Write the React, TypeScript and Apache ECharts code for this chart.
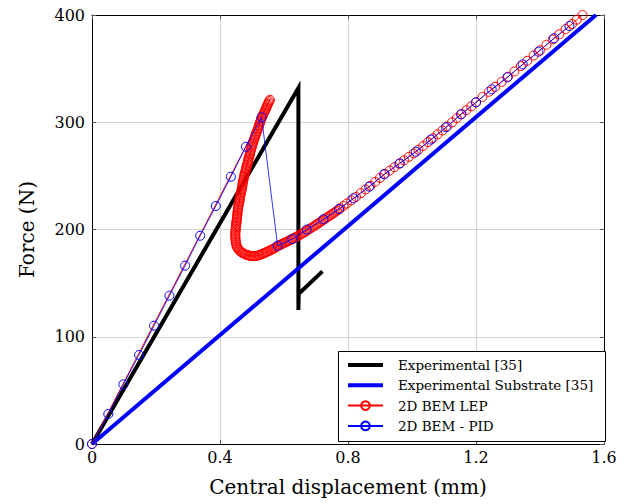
import React, { useEffect, useRef } from "react";
import * as echarts from "echarts";

const xTicks = [0, 0.4, 0.8, 1.2, 1.6];
const yTicks = [0, 100, 200, 300, 400];

const expX = [0, 0.645, 0.645, 0.646, 0.72];
const expY = [0, 332, 125, 140, 161];

const subX = [0, 1.575];
const subY = [0, 400];

// 2D BEM LEP: [displacement (mm), force (N)]
const lepPoints = [
  [0, 0],
  [0.556, 321], [0.554, 319.8], [0.552, 318.5], [0.55, 317.2], [0.548, 316], [0.546, 314.8],
  [0.545, 313.5], [0.543, 312.2], [0.541, 311], [0.539, 309.8], [0.537, 308.5], [0.535, 307.4],
  [0.534, 306.3], [0.532, 305.1], [0.53, 304], [0.528, 302.6], [0.527, 301.3], [0.525, 300],
  [0.524, 298.6], [0.522, 297.2], [0.521, 295.9], [0.519, 294.5], [0.518, 293.2], [0.516, 291.8],
  [0.514, 290.5], [0.512, 289.2], [0.511, 287.8], [0.509, 286.4], [0.508, 285.1], [0.506, 283.8],
  [0.505, 282.4], [0.503, 281], [0.502, 279.7], [0.5, 278.4], [0.499, 277], [0.498, 275.6],
  [0.497, 274.2], [0.495, 272.8], [0.494, 271.4], [0.493, 270], [0.492, 268.6], [0.49, 267.2],
  [0.489, 265.8], [0.488, 264.4], [0.487, 263], [0.486, 261.6], [0.485, 260.2], [0.483, 258.8],
  [0.482, 257.4], [0.481, 256], [0.48, 254.6], [0.478, 253.2], [0.477, 251.8], [0.476, 250.4],
  [0.475, 249], [0.474, 247.6], [0.473, 246.2], [0.472, 244.8], [0.471, 243.4], [0.47, 242],
  [0.47, 240.6], [0.469, 239.2], [0.468, 237.8], [0.467, 236.4], [0.466, 235], [0.465, 233.6],
  [0.464, 232.2], [0.463, 230.8], [0.462, 229.4], [0.461, 228], [0.461, 226.6], [0.46, 225.2],
  [0.459, 223.8], [0.458, 222.4], [0.457, 221], [0.456, 219.6], [0.456, 218.3], [0.455, 217],
  [0.455, 215.6], [0.454, 214.2], [0.454, 212.9], [0.453, 211.5], [0.453, 210.2], [0.452, 208.8],
  [0.452, 207.5], [0.451, 206.2], [0.451, 204.8], [0.45, 203.5], [0.45, 202.2], [0.449, 200.8],
  [0.449, 199.5], [0.448, 198], [0.448, 196.5], [0.448, 195], [0.448, 193.5], [0.448, 192],
  [0.449, 190.5], [0.449, 189], [0.45, 187.5], [0.451, 186], [0.452, 184.5], [0.454, 183.4],
  [0.456, 182.3], [0.458, 181.3], [0.461, 180.3], [0.464, 179.5], [0.467, 178.8], [0.47, 178.2],
  [0.473, 177.8], [0.477, 177.2], [0.481, 176.6], [0.485, 176.2], [0.49, 175.8], [0.494, 175.5],
  [0.498, 175.3], [0.502, 175.2], [0.506, 175.2], [0.51, 175.3], [0.515, 175.4], [0.519, 175.8],
  [0.523, 176.2], [0.527, 176.6], [0.531, 177.1], [0.535, 177.6], [0.539, 178.1], [0.543, 178.6],
  [0.547, 179.2], [0.551, 179.8], [0.556, 180.4], [0.56, 181], [0.564, 181.7], [0.568, 182.3],
  [0.572, 183], [0.576, 183.7], [0.58, 184.4], [0.584, 185], [0.588, 185.6], [0.591, 186.1],
  [0.595, 186.7], [0.599, 187.2], [0.603, 187.8], [0.607, 188.3], [0.611, 188.9], [0.614, 189.4],
  [0.618, 190], [0.622, 190.6], [0.626, 191.2], [0.631, 192], [0.636, 192.8], [0.641, 193.6],
  [0.646, 194.4], [0.651, 195.2], [0.656, 196.1], [0.661, 197], [0.666, 197.9], [0.671, 198.8],
  [0.676, 199.8], [0.681, 200.7], [0.686, 201.7], [0.691, 202.6], [0.696, 203.6], [0.701, 204.5],
  [0.706, 205.5], [0.711, 206.5], [0.716, 207.5], [0.721, 208.5], [0.726, 209.5], [0.731, 210.5],
  [0.736, 211.5], [0.741, 212.5], [0.746, 213.5], [0.751, 214.5], [0.756, 215.5], [0.761, 216.5],
  [0.766, 217.6], [0.771, 218.7], [0.776, 219.8], [0.786, 222], [0.796, 224.2],
  [0.81, 227.2], [0.825, 230.4], [0.84, 233.9], [0.855, 237.3], [0.87, 240.8], [0.885, 244.4],
  [0.9, 248.1], [0.915, 251.8], [0.93, 255], [0.945, 258.1], [0.96, 261.3], [0.975, 264.5],
  [0.99, 267.7], [1.005, 271], [1.02, 274.4], [1.035, 277.9], [1.05, 281.5], [1.065, 285.1],
  [1.08, 288.7], [1.095, 292.3], [1.11, 296.1], [1.125, 299.9], [1.14, 303.8], [1.155, 307.7],
  [1.17, 311.3], [1.185, 314.8], [1.2, 318.6], [1.22, 323.5], [1.24, 328.4], [1.26, 333],
  [1.28, 337.6], [1.3, 342.4], [1.32, 347.4], [1.34, 352.4], [1.36, 357.3], [1.38, 362.2],
  [1.4, 367], [1.42, 372.2], [1.44, 377.3], [1.46, 382], [1.48, 386.8], [1.5, 391.6],
  [1.515, 395.6], [1.533, 400],
];

const pidX = [
  0, 0.051, 0.098, 0.147, 0.194, 0.242, 0.291, 0.338, 0.387, 0.434, 0.481, 0.53,
  0.58, 0.626, 0.671, 0.723, 0.772, 0.817, 0.866, 0.913, 0.962, 1.012, 1.059,
  1.106, 1.153, 1.2, 1.249, 1.298, 1.346, 1.395, 1.444, 1.492,
];
const pidY = [
  0, 28, 55.6, 83, 110.3, 138.3, 166.3, 194.2, 221.9, 249.2, 277.2, 304.6,
  184.9, 191.1, 200, 209.5, 219.1, 229.1, 239.9, 251.5, 261.7, 272.5, 283.8,
  295.3, 307.4, 318.6, 330.7, 341.9, 354, 365.8, 378.3, 389.7,
];

const seriesNames = [
  "Experimental [35]",
  "Experimental Substrate [35]",
  "2D BEM LEP",
  "2D BEM - PID",
];

const FONT = "DejaVu Serif";

const zip = (xs: number[], ys: number[]) => xs.map((x, i) => [x, ys[i]]);

export default function App() {
  const ref = useRef<HTMLDivElement>(null);
  useEffect(() => {
    if (!ref.current) return;
    const chart = echarts.init(ref.current, undefined, { renderer: "svg" });
    const xMin = xTicks[0];
    const xMax = xTicks[xTicks.length - 1];
    const xInt = xTicks[1] - xTicks[0];
    const yMin = yTicks[0];
    const yMax = yTicks[yTicks.length - 1];
    const yInt = yTicks[1] - yTicks[0];
    const axisCommon = {
      axisLine: { show: true, onZero: false, lineStyle: { color: "#000", width: 1 } },
      axisTick: { show: true, inside: true, length: 4, lineStyle: { color: "#555", width: 1 } },
    };
    chart.setOption({
      animation: false,
      backgroundColor: "#fff",
      grid: { left: 92, right: 35, top: 15, bottom: 60, containLabel: false },
      xAxis: [
        {
          type: "value",
          min: xMin,
          max: xMax,
          interval: xInt,
          position: "bottom",
          ...axisCommon,
          axisLabel: { fontFamily: FONT, fontSize: 16, color: "#000", margin: 5 },
          splitLine: { show: true, lineStyle: { color: "#d4d4d4", width: 1 } },
          name: "Central displacement (mm)",
          nameLocation: "middle",
          nameGap: 33,
          nameTextStyle: { fontFamily: FONT, fontSize: 20, color: "#000" },
        },
        {
          type: "value",
          min: xMin,
          max: xMax,
          interval: xInt,
          position: "top",
          ...axisCommon,
          axisLabel: { show: false },
          splitLine: { show: false },
        },
      ],
      yAxis: [
        {
          type: "value",
          min: yMin,
          max: yMax,
          interval: yInt,
          position: "left",
          ...axisCommon,
          axisLabel: { fontFamily: FONT, fontSize: 16, color: "#000", margin: 7 },
          splitLine: { show: true, lineStyle: { color: "#d4d4d4", width: 1 } },
          name: "Force (N)",
          nameLocation: "middle",
          nameGap: 55,
          nameTextStyle: { fontFamily: FONT, fontSize: 20, color: "#000" },
        },
        {
          type: "value",
          min: yMin,
          max: yMax,
          interval: yInt,
          position: "right",
          ...axisCommon,
          axisLabel: { show: false },
          splitLine: { show: false },
        },
      ],
      graphic: [
        {
          type: "rect",
          z: 3,
          shape: { x: 338.5, y: 351.5, width: 267, height: 90 },
          style: { fill: "#fff", stroke: "#000", lineWidth: 1 },
        },
      ],
      legend: {
        z: 6,
        left: 346,
        top: 358,
        orient: "vertical",
        padding: 0,
        itemWidth: 35,
        itemHeight: 11,
        itemGap: 6.3,
        selectedMode: false,
        textStyle: { fontFamily: FONT, fontSize: 13.5, color: "#000", padding: [0, 0, 0, 10] },
        data: [
          { name: seriesNames[0], itemStyle: { opacity: 0 }, lineStyle: { width: 4, color: "#000" } },
          { name: seriesNames[1], itemStyle: { opacity: 0 }, lineStyle: { width: 4, color: "#0000ff" } },
          { name: seriesNames[2] },
          { name: seriesNames[3] },
        ],
      },
      series: [
        {
          name: seriesNames[0],
          type: "line",
          data: zip(expX, expY),
          symbol: "none",
          lineStyle: { color: "#000", width: 4, join: "miter", cap: "butt" },
          itemStyle: { color: "#000" },
          z: 2,
        },
        {
          name: seriesNames[1],
          type: "line",
          data: zip(subX, subY),
          symbol: "none",
          lineStyle: { color: "#0000ff", width: 4 },
          itemStyle: { color: "#0000ff" },
          z: 2,
        },
        {
          name: seriesNames[2],
          type: "line",
          data: lepPoints,
          symbol: "circle",
          symbolSize: 9,
          showAllSymbol: true,
          lineStyle: { color: "#ff0000", width: 1 },
          itemStyle: { color: "rgba(0,0,0,0)", borderColor: "#ff0000", borderWidth: 1 },
          z: 3,
        },
        {
          name: seriesNames[3],
          type: "line",
          data: zip(pidX, pidY),
          symbol: "circle",
          symbolSize: 9,
          showAllSymbol: true,
          lineStyle: { color: "#0000ff", width: 0.8 },
          itemStyle: { color: "rgba(0,0,0,0)", borderColor: "#0000ff", borderWidth: 1 },
          z: 4,
        },
      ],
    });
    return () => chart.dispose();
  }, []);
  return (
    <div
      ref={ref}
      style={{ position: "fixed", left: 0, top: 0, width: 639, height: 504 }}
    />
  );
}
